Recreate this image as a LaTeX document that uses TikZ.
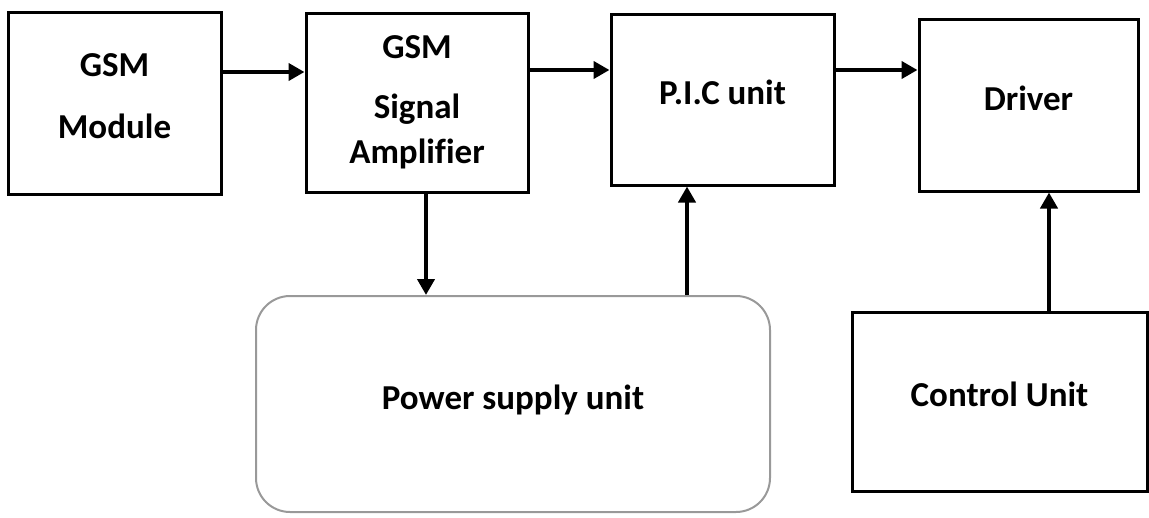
\documentclass[tikz,border=0pt]{standalone}
\usepackage{fontspec}
\setmainfont{Carlito}[Ligatures=CommonOff]
\usetikzlibrary{arrows.meta}
\tikzset{
  blk/.style={draw, line width=3pt, inner sep=0pt},
  psu/.style={blk, draw=black!40, line width=2pt, rounded corners=34pt},
  txt/.style={inner sep=0pt, align=center, yshift=7pt,
    font=\fontsize{35}{42}\selectfont\bfseries},
  flow/.style={line width=4.5pt, -{Triangle[length=16pt,width=17pt]}}
}
\begin{document}
\begin{tikzpicture}[x=1pt,y=-1pt]
  \useasboundingbox (0,0) rectangle (1149,517);
  % top row
  \node[blk, minimum width=213pt, minimum height=182pt,
    label={[txt]center:{GSM\\[20pt]Module}}] (gsm) at (114.5,103) {};
  \node[blk, minimum width=222pt, minimum height=179pt,
    label={[txt, yshift=-7pt]center:{GSM\\[18pt]Signal\\[3pt]Amplifier}}] (amp) at (417,102.5) {};
  \node[blk, minimum width=223pt, minimum height=171pt,
    label={[txt]center:P.I.C unit}] (pic) at (722.5,99.5) {};
  \node[blk, minimum width=219pt, minimum height=172pt,
    label={[txt]center:Driver}] (drv) at (1028.5,105) {};
  % bottom row
  \node[psu, minimum width=514pt, minimum height=216pt,
    label={[txt, yshift=-3pt]center:Power supply unit}] (pwr) at (513,404) {};
  \node[blk, minimum width=295pt, minimum height=179pt,
    label={[txt]center:Control Unit}] (ctl) at (999.5,401.5) {};
  % signal flow
  \draw[flow] (gsm.east |- 0,72) -- (amp.west |- 0,72);
  \draw[flow] (amp.east |- 0,70) -- (pic.west |- 0,70);
  \draw[flow] (pic.east |- 0,70) -- (drv.west |- 0,70);
  \draw[flow] (amp.south -| 426,0) -- (pwr.north -| 426,0);
  \draw[flow] (pwr.north -| 687,0) -- (pic.south -| 687,0);
  \draw[flow] (ctl.north -| 1049,0) -- (drv.south -| 1049,0);
\end{tikzpicture}
\end{document}
